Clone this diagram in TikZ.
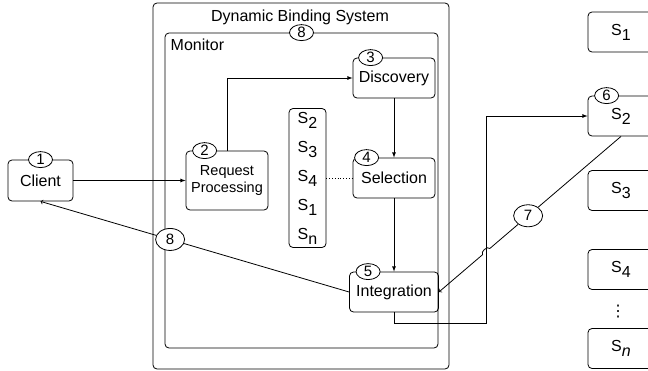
\documentclass[tikz,border=0pt]{standalone}
\usepackage{fontspec}
\setmainfont{Liberation Sans}
\newfontfamily\symfont{DejaVu Sans}
\usetikzlibrary{arrows,positioning,shapes,calc}

\newcommand{\srv}[1]{S\raisebox{-5pt}{#1}}

\begin{document}
\begin{tikzpicture}[x=1pt,y=-1pt,thick,
    font=\fontsize{16}{19}\selectfont,
    box/.style={rectangle,draw,rounded corners=4pt,align=center,inner sep=0pt},
    stepnum/.style={ellipse,draw,fill=white,inner sep=0pt,minimum width=24pt,minimum height=16pt,font=\fontsize{15}{15}\selectfont},
    flownum/.style={stepnum,minimum width=29pt,minimum height=22pt}]

    \clip (0,0) rectangle (648,370);

    % Dynamic binding system with its monitor
    \node[box,minimum width=296pt,minimum height=366pt] (sys) at (301,186) {};
    \node (title) at (300,17) {Dynamic Binding System};
    \node[box,minimum width=273pt,minimum height=315pt] (mon) at (301.5,190.5) {};
    \node[anchor=north west] (montxt) at (167,35) {Monitor};

    % Components
    \node[box,minimum width=65pt,minimum height=41pt] (client) at (40.5,180.5) {Client};
    \node[box,minimum width=82pt,minimum height=59pt,font=\fontsize{14.5}{17}\selectfont] (req) at (227,180.5) {Request\\Processing};
    \node[box,minimum width=82pt,minimum height=40pt] (disc) at (394,78) {Discovery};
    \node[box,minimum width=82pt,minimum height=40pt] (sel) at (394,178) {Selection};
    \node[box,minimum width=89pt,minimum height=40pt] (integ) at (394,292) {Integration};
    \node[box,minimum width=37pt,minimum height=139pt,font=\fontsize{16}{29}\selectfont] (slist) at (307.5,178) {\srv{2}\\\srv{3}\\\srv{4}\\\srv{1}\\\srv{n}};

    % Services
    \foreach \nm/\y/\lab in {svc1/32/1, svc2/116/2, svc3/190.5/3, svc4/269.5/4, svcn/348.5/\textit{n}}
        \node[box,minimum width=66pt,minimum height=40pt] (\nm) at (621,\y) {\srv{\lab}};
    \node[font=\symfont\fontsize{16}{16}\selectfont] (dots) at (618,312) {⋮};

    % Flow arrows
    \draw[-latex] (client) -- (req);
    \draw[-latex] (req.north) |- (disc.west);
    \draw[-latex] (disc) -- (sel);
    \draw[-latex] (sel) -- (integ);
    \draw[dotted] (slist) -- (sel);
    \coordinate (loop) at (486,323);
    \draw[-latex] (integ.south) |- (loop) |- (svc2.west);

    \node[flownum] (f8) at ($(integ.west)!0.58!(client.south)$) {8};
    \draw[-to] (integ.west) -- (f8) -- (client.south);

    \node[flownum] (f7) at ($(svc2.south)!0.51!(integ.east)$) {7};
    \coordinate (hopa) at ($(svc2.south)!0.72!(integ.east)$);
    \coordinate (hopb) at ($(svc2.south)!0.76!(integ.east)$);
    \draw[-to] (svc2.south) -- (f7) -- (hopa) to[bend right=90] (hopb) -- (integ.east);

    % Step numbers
    \node[stepnum] (n1) at (client.north) {1};
    \node[stepnum] (n2) at ([xshift=19pt]req.north west) {2};
    \node[stepnum] (n3) at ([xshift=18pt]disc.north west) {3};
    \node[stepnum] (n4) at ([xshift=14pt]sel.north west) {4};
    \node[stepnum] (n5) at ([xshift=19pt]integ.north west) {5};
    \node[stepnum] (n6) at ([xshift=19pt]svc2.north west) {6};
    \node[stepnum] (n8) at (mon.north) {8};
\end{tikzpicture}
\end{document}
